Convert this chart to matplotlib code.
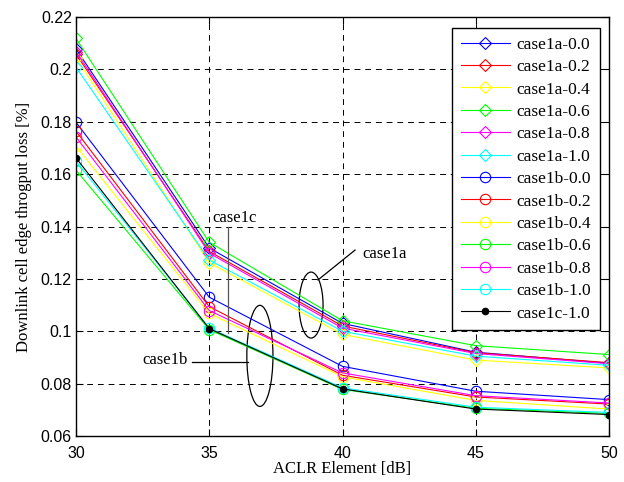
import matplotlib
matplotlib.use("Agg")
import matplotlib.pyplot as plt
from matplotlib.patches import Ellipse

aclr = [30, 35, 40, 45, 50]

case1a_00 = [0.2078, 0.1318, 0.1030, 0.0920, 0.0878]
case1a_02 = [0.2058, 0.1305, 0.1020, 0.0918, 0.0880]
case1a_04 = [0.2045, 0.1262, 0.0988, 0.0890, 0.0860]
case1a_06 = [0.2118, 0.1340, 0.1040, 0.0945, 0.0911]
case1a_08 = [0.2068, 0.1298, 0.1012, 0.0915, 0.0876]
case1a_10 = [0.2008, 0.1272, 0.1000, 0.0905, 0.0870]

case1b_00 = [0.1798, 0.1130, 0.0866, 0.0771, 0.0739]
case1b_02 = [0.1764, 0.1094, 0.0832, 0.0749, 0.0722]
case1b_04 = [0.1707, 0.1068, 0.0826, 0.0736, 0.0703]
case1b_06 = [0.1615, 0.1006, 0.0778, 0.0706, 0.0686]
case1b_08 = [0.1742, 0.1079, 0.0841, 0.0754, 0.0726]
case1b_10 = [0.1649, 0.1012, 0.0784, 0.0710, 0.0690]

case1c_10 = [0.1662, 0.1010, 0.0780, 0.0703, 0.0682]

series = [
    ("case1a-0.0", case1a_00, "#0000ff", "D"),
    ("case1a-0.2", case1a_02, "#ff0000", "D"),
    ("case1a-0.4", case1a_04, "#ffff00", "D"),
    ("case1a-0.6", case1a_06, "#00ff00", "D"),
    ("case1a-0.8", case1a_08, "#ff00ff", "D"),
    ("case1a-1.0", case1a_10, "#00ffff", "D"),
    ("case1b-0.0", case1b_00, "#0000ff", "o"),
    ("case1b-0.2", case1b_02, "#ff0000", "o"),
    ("case1b-0.4", case1b_04, "#ffff00", "o"),
    ("case1b-0.6", case1b_06, "#00ff00", "o"),
    ("case1b-0.8", case1b_08, "#ff00ff", "o"),
    ("case1b-1.0", case1b_10, "#00ffff", "o"),
]

fig = plt.figure(figsize=(6.24, 4.82), dpi=100)
ax = fig.add_axes([0.1218, 0.0954, 0.8542, 0.8693])

for name, vals, col, mk in series:
    ms = 6.0 if mk == "D" else 7.5
    ax.plot(aclr, vals, color=col, marker=mk, markersize=ms,
            markerfacecolor="none", markeredgecolor=col, linewidth=0.8,
            markeredgewidth=0.8, label=name)
ax.plot(aclr, case1c_10, color="black", marker=".", markersize=9,
        linewidth=0.8, label="case1c-1.0")

ax.set_xlim(30, 50)
ax.set_ylim(0.06, 0.22)
ax.set_xticks([30, 35, 40, 45, 50])
ax.set_yticks([0.06, 0.08, 0.1, 0.12, 0.14, 0.16, 0.18, 0.2, 0.22])
ax.set_yticklabels(["0.06", "0.08", "0.1", "0.12", "0.14", "0.16", "0.18", "0.2", "0.22"])
ax.grid(True, color="black", linestyle=(0, (6, 5)), linewidth=0.7)
ax.tick_params(direction="in", top=True, right=True, length=5, width=0.8,
               labelsize=11.5)
ax.tick_params(axis="x", pad=7.5)
ax.tick_params(axis="y", pad=3)
for lab in ax.get_xticklabels() + ax.get_yticklabels():
    lab.set_family("Liberation Sans")
for sp in ax.spines.values():
    sp.set_linewidth(1.0)

serif = "Liberation Serif"
ax.set_xlabel("ACLR Element [dB]", family=serif, fontsize=12, labelpad=0)
ax.set_ylabel("Downlink cell edge throgput loss [%]", family=serif, fontsize=12, labelpad=6)

leg = ax.legend(loc="upper right", bbox_to_anchor=(0.983, 0.974), borderaxespad=0,
                fancybox=False, edgecolor="black", framealpha=1,
                prop={"family": serif, "size": 12.5},
                handlelength=2.8, labelspacing=0.36, borderpad=0.5, handletextpad=0.4)
leg.get_frame().set_linewidth(1.0)

# annotations
ax.add_patch(Ellipse((36.90, 0.0906), 0.98, 0.0386, fill=False, edgecolor="black", linewidth=0.9))
ax.add_patch(Ellipse((38.82, 0.1100), 0.90, 0.0252, fill=False, edgecolor="black", linewidth=0.9))
ax.plot([39.08, 40.47], [0.1196, 0.1310], color="black", linewidth=0.9)
ax.text(40.73, 0.1296, "case1a", family=serif, fontsize=12, va="center", ha="left")
ax.plot([35.70, 35.70], [0.1398, 0.0993], color="#555555", linewidth=0.9)
ax.text(35.10, 0.1432, "case1c", family=serif, fontsize=12, va="center", ha="left")
ax.plot([34.35, 36.45], [0.0883, 0.0883], color="black", linewidth=0.9)
ax.text(34.20, 0.0890, "case1b", family=serif, fontsize=12, va="center", ha="right")

fig.savefig("out.png", dpi=100)
